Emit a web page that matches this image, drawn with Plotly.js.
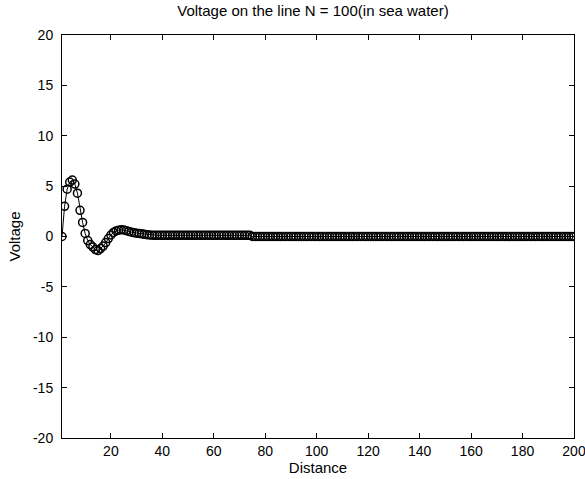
<!DOCTYPE html>
<html>
<head>
<meta charset="utf-8">
<script src="https://cdn.plot.ly/plotly-3.0.1.min.js"></script>
<style>html,body{margin:0;padding:0;background:#fff;}#chart{width:585px;height:479px;}</style>
</head>
<body>
<div id="chart"></div>
<script>
var chartTitle = "Voltage on the line N = 100(in sea water)";
var xLabel = "Distance";
var yLabel = "Voltage";
var xTicks = [20, 40, 60, 80, 100, 120, 140, 160, 180, 200];
var yTicks = [-20, -15, -10, -5, 0, 5, 10, 15, 20];

// voltage at positions 1..200
var voltage = [
  0, 3.0, 4.7, 5.4, 5.6, 5.2, 4.3, 2.6, 1.4, 0.3,
  -0.4, -0.8, -1.05, -1.3, -1.4, -1.2, -0.95, -0.6, -0.2, 0.15,
  0.4, 0.55, 0.63, 0.67, 0.65, 0.58, 0.5, 0.43, 0.38, 0.33,
  0.3, 0.27, 0.22, 0.18, 0.15, 0.13, 0.12, 0.12, 0.12, 0.12,
  0.12, 0.12, 0.12, 0.12, 0.12, 0.12, 0.12, 0.12, 0.12, 0.12,
  0.12, 0.12, 0.12, 0.12, 0.12, 0.12, 0.12, 0.12, 0.12, 0.12,
  0.12, 0.12, 0.12, 0.12, 0.12, 0.12, 0.12, 0.12, 0.12, 0.12,
  0.12, 0.12, 0.12, 0.12, 0, 0, 0, 0, 0, 0,
  0, 0, 0, 0, 0, 0, 0, 0, 0, 0,
  0, 0, 0, 0, 0, 0, 0, 0, 0, 0,
  0, 0, 0, 0, 0, 0, 0, 0, 0, 0,
  0, 0, 0, 0, 0, 0, 0, 0, 0, 0,
  0, 0, 0, 0, 0, 0, 0, 0, 0, 0,
  0, 0, 0, 0, 0, 0, 0, 0, 0, 0,
  0, 0, 0, 0, 0, 0, 0, 0, 0, 0,
  0, 0, 0, 0, 0, 0, 0, 0, 0, 0,
  0, 0, 0, 0, 0, 0, 0, 0, 0, 0,
  0, 0, 0, 0, 0, 0, 0, 0, 0, 0,
  0, 0, 0, 0, 0, 0, 0, 0, 0, 0,
  0, 0, 0, 0, 0, 0, 0, 0, 0, 0
];
var distance = voltage.map(function (v, i) { return i + 1; });

var tickFont = {family: "Liberation Sans, Arial, sans-serif", size: 14, color: "#000"};
var labelFont = {family: "Liberation Sans, Arial, sans-serif", size: 15, color: "#000"};

var trace = {
  x: distance,
  y: voltage,
  type: "scatter",
  mode: "lines+markers",
  line: {color: "#000", width: 1},
  marker: {symbol: "circle-open", size: 8, color: "#000", line: {width: 1.5, color: "#000"}},
  hoverinfo: "none"
};

var axisCommon = {
  showgrid: false,
  zeroline: false,
  showline: true,
  linecolor: "#000",
  linewidth: 1,
  mirror: "ticks",
  ticks: "inside",
  ticklen: 5,
  tickcolor: "#000",
  tickfont: tickFont,
  ticklabeloverflow: "allow"
};

var layout = {
  width: 585,
  height: 479,
  paper_bgcolor: "#fff",
  plot_bgcolor: "#fff",
  showlegend: false,
  margin: {l: 62, r: 11, t: 35, b: 41},
  font: tickFont,
  title: {text: chartTitle, font: labelFont, x: 0.535, xanchor: "center", y: 0.977, yanchor: "middle", yref: "container"},
  xaxis: Object.assign({}, axisCommon, {
    range: [1, 200],
    tickmode: "array",
    tickvals: xTicks,
    ticktext: xTicks.map(String),
    title: {text: xLabel, font: labelFont, standoff: 2}
  }),
  yaxis: Object.assign({}, axisCommon, {
    range: [-20, 20],
    tickmode: "array",
    tickvals: yTicks,
    ticktext: yTicks.map(String),
    ticklabelstandoff: 5,
    title: {text: yLabel, font: labelFont, standoff: 8}
  })
};

Plotly.newPlot("chart", [trace], layout, {staticPlot: true, displayModeBar: false});
</script>
</body>
</html>
